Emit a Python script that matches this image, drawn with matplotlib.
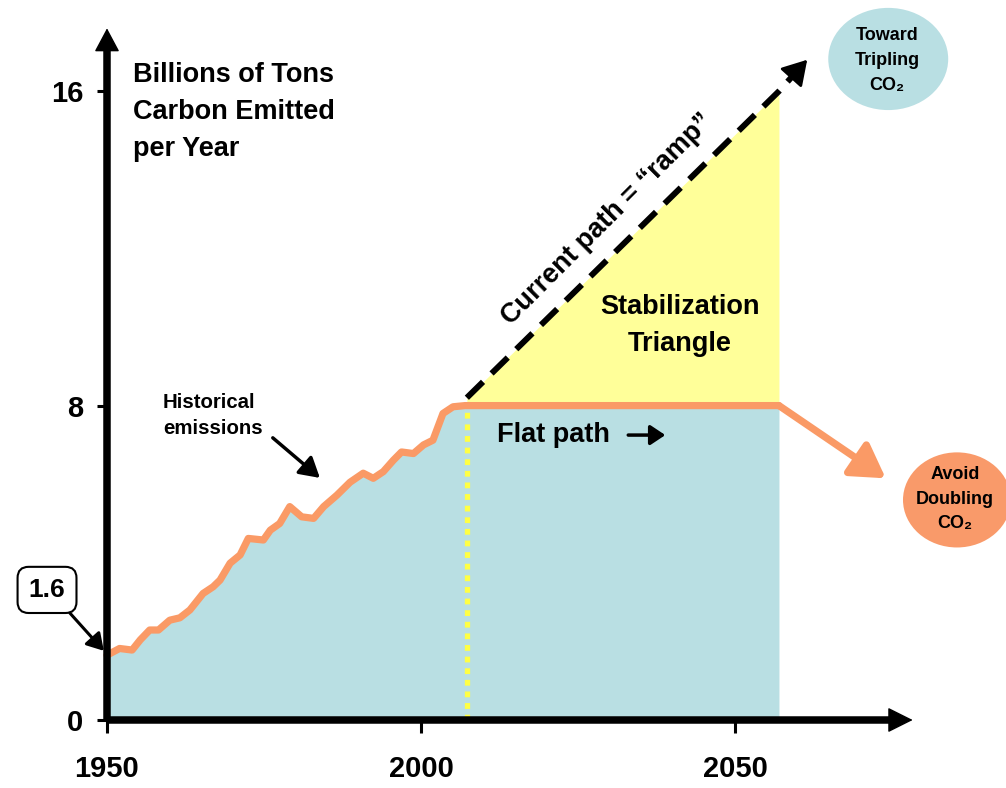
import matplotlib
matplotlib.use("Agg")
import matplotlib.pyplot as plt
from matplotlib.patches import Ellipse

plt.rcParams['font.family'] = ['Liberation Sans', 'DejaVu Sans']
plt.rcParams['font.weight'] = 'bold'

# ---------------- data ----------------
hist_years = [1950, 1952, 1954, 1955.3, 1956.8, 1958.2, 1960, 1961.6, 1963.2, 1965.3,
              1966.9, 1968, 1969.6, 1971.2, 1972.5, 1974.9, 1976, 1977.5, 1979.1, 1981,
              1982.9, 1984.5, 1986.6, 1988.7, 1990.8, 1992.4, 1994, 1995.6, 1996.9,
              1998.8, 2000.4, 2001.9, 2003.5, 2005.1, 2007]
hist_values = [1.65, 1.82, 1.78, 2.04, 2.29, 2.29, 2.54, 2.6, 2.8, 3.22,
               3.39, 3.56, 3.99, 4.2, 4.62, 4.58, 4.83, 5.0, 5.43, 5.17,
               5.13, 5.43, 5.72, 6.05, 6.28, 6.15, 6.32, 6.61, 6.82,
               6.78, 7.0, 7.12, 7.8, 7.97, 8.0]
flat_years = [2007, 2057]
flat_values = [8.0, 8.0]
ramp_years = [2007.3, 2057, 2061.5]
ramp_values = [8.2, 16.0, 16.8]
avoid_years = [2057, 2074]
avoid_values = [8.0, 6.15]
x_ticks = [1950, 2000, 2050]
y_ticks = [0, 8, 16]
start_label = "1.6"
start_value = 1.76

TEAL = '#B9DFE3'
YELLOW_FILL = '#FFFF99'
DOT_YELLOW = '#FFFF44'
ORANGE = '#FA9A66'
ORANGE_ELL = '#F99A6A'

PX_YEAR = 6.28
PX_UNIT = 39.3

fig = plt.figure(figsize=(10.06, 7.88), dpi=100)
ax = fig.add_axes([0, 0, 1, 1])
ax.set_xlim(1950 - 107 / PX_YEAR, 1950 + (1006 - 107) / PX_YEAR)
ax.set_ylim(-(788 - 720) / PX_UNIT, 720 / PX_UNIT)
ax.patch.set_visible(False)

# fills
ax.fill_between(hist_years + flat_years[1:], hist_values + flat_values[1:], 0,
                color=TEAL, lw=0, zorder=1)
ax.fill_between(ramp_years[:2], flat_values, ramp_values[:2],
                color=YELLOW_FILL, lw=0, zorder=1)

# dotted yellow divider
ax.plot([ramp_years[0], ramp_years[0]], [0, flat_values[0]], color=DOT_YELLOW,
        lw=3.8, linestyle=(0, (1.1, 1.1)), zorder=2)

# orange emission path
ax.plot(hist_years + flat_years, hist_values + flat_values, color=ORANGE, lw=5.2,
        solid_joinstyle='round', solid_capstyle='round', zorder=3)
ax.annotate('', xy=(avoid_years[1], avoid_values[1]), xytext=(avoid_years[0], avoid_values[0]),
            arrowprops=dict(arrowstyle='-|>,head_length=1.0,head_width=0.6', mutation_scale=20,
                            color=ORANGE, lw=5.2, shrinkA=0, shrinkB=0), zorder=3)

# dashed ramp
slope = (ramp_values[2] - ramp_values[1]) / (ramp_years[2] - ramp_years[1])
shaft_end_x = ramp_years[2] - 2.2
shaft_end_y = ramp_values[2] - 2.2 * slope
ax.plot([ramp_years[0], ramp_years[1], shaft_end_x], [ramp_values[0], ramp_values[1], shaft_end_y],
        color='black', lw=4.3, dashes=(3.8, 2.0), dash_capstyle='butt', zorder=4)
ax.annotate('', xy=(ramp_years[2], ramp_values[2]), xytext=(shaft_end_x, shaft_end_y),
            arrowprops=dict(arrowstyle='-|>,head_length=0.75,head_width=0.45', mutation_scale=20,
                            color='black', lw=2, shrinkA=0, shrinkB=0), zorder=4)

# axes
for s in ['top', 'right']:
    ax.spines[s].set_visible(False)
ax.spines['left'].set_position(('data', 1950))
ax.spines['bottom'].set_position(('data', 0))
ax.spines['left'].set_bounds(0, 17.15)
ax.spines['bottom'].set_bounds(1950, 2075)
for s in ['left', 'bottom']:
    ax.spines[s].set_linewidth(5.4)
    ax.spines[s].set_capstyle('butt')
    ax.spines[s].set_zorder(5)
ax.set_xticks(x_ticks)
ax.set_yticks(y_ticks)
ax.tick_params(axis='x', direction='out', length=9.4, width=2.2, labelsize=21, pad=16)
ax.tick_params(axis='y', direction='out', length=7.2, width=2.2, labelsize=21, pad=10)

ax.annotate('', xy=(2078.3, 0), xytext=(2074.5, 0),
            arrowprops=dict(arrowstyle='-|>,head_length=0.8,head_width=0.4', mutation_scale=20,
                            color='black', lw=1, shrinkA=0, shrinkB=0), zorder=6, annotation_clip=False)
ax.annotate('', xy=(1950, 17.6), xytext=(1950, 17.0),
            arrowprops=dict(arrowstyle='-|>,head_length=0.75,head_width=0.4', mutation_scale=20,
                            color='black', lw=1, shrinkA=0, shrinkB=0), zorder=6, annotation_clip=False)

# texts
ax.text(1954.14, 16.75, "Billions of Tons\nCarbon Emitted\nper Year", ha='left', va='top',
        fontsize=19.5, linespacing=1.55)

ax.annotate(start_label, xy=(1949.5, start_value), xytext=(1940.45, 3.31), ha='center', va='center',
            fontsize=19, annotation_clip=False,
            bbox=dict(boxstyle='round,pad=0.42', fc='white', ec='black', lw=1.5),
            arrowprops=dict(arrowstyle='-|>,head_length=0.5,head_width=0.3', mutation_scale=20,
                            color='black', lw=2.2, relpos=(0.85, 0), shrinkA=0, shrinkB=0))

ax.text(1958.9, 8.32, "Historical\nemissions", ha='left', va='top', fontsize=14.7, linespacing=1.45)
ax.annotate('', xy=(1983.9, 6.16), xytext=(1976.4, 7.18),
            arrowprops=dict(arrowstyle='-|>,head_length=0.6,head_width=0.35', mutation_scale=20,
                            color='black', lw=2.5, shrinkA=0, shrinkB=0))

ax.text(2012.1, 7.25, "Flat path", ha='left', va='center', fontsize=19.5, zorder=6)
ax.annotate('', xy=(2038.9, 7.25), xytext=(2033.0, 7.25),
            arrowprops=dict(arrowstyle='-|>,head_length=0.45,head_width=0.3', mutation_scale=20,
                            color='black', lw=2.5, shrinkA=0, shrinkB=0))

ax.text(2041.2, 10.05, "Stabilization\nTriangle", ha='center', va='center', fontsize=19.5,
        linespacing=1.55)
ax.text(2029.6, 12.75, "Current path = \u201cramp\u201d", rotation=45, rotation_mode='anchor',
        ha='center', va='center', fontsize=19.5)

ax.add_patch(Ellipse((2085.35, 5.6), 17.2, 2.42, fc=ORANGE_ELL, ec='none', zorder=2))
ax.text(2085.0, 5.62, "Avoid\nDoubling\nCO\u2082", ha='center', va='center', fontsize=13,
        linespacing=1.6, zorder=3)
ax.add_patch(Ellipse((2074.4, 16.82), 19.1, 2.6, fc=TEAL, ec='none', zorder=2))
ax.text(2074.2, 16.78, "Toward\nTripling\nCO\u2082", ha='center', va='center', fontsize=13,
        linespacing=1.6, zorder=3)

fig.savefig("out.png", dpi=100)
